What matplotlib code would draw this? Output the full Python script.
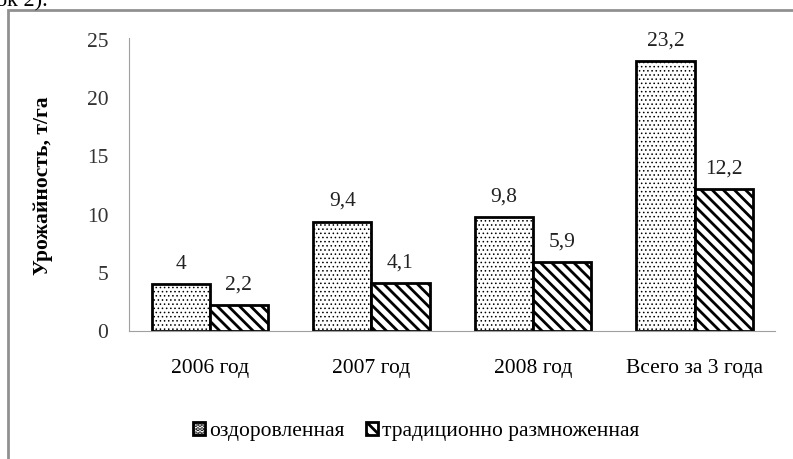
import matplotlib
matplotlib.use("Agg")
import matplotlib.pyplot as plt
from matplotlib.patches import Rectangle
import numpy as np

plt.rcParams['font.family'] = ['Liberation Serif', 'DejaVu Serif']
plt.rcParams['hatch.linewidth'] = 2.0

categories = ["2006 год", "2007 год", "2008 год", "Всего за 3 года"]
healthy = [4, 9.4, 9.8, 23.2]
traditional = [2.2, 4.1, 5.9, 12.2]
healthy_labels = ["4", "9,4", "9,8", "23,2"]
traditional_labels = ["2,2", "4,1", "5,9", "12,2"]
series_names = ["оздоровленная", "традиционно размноженная"]

fs = 15.5
fig = plt.figure(figsize=(7.93, 4.59), dpi=100)
ax = fig.add_axes([0.1627, 0.279, 0.815, 0.634])

x = np.arange(len(categories))
w = 0.36
b1 = ax.bar(x - w / 2, healthy, w, facecolor="white", edgecolor="black",
            linewidth=2, hatch="....", label=series_names[0])
b2 = ax.bar(x + w / 2, traditional, w, facecolor="white", edgecolor="black",
            linewidth=2, hatch="\\\\\\", label=series_names[1])
# dotted fill is light in the original
for p in b1:
    p.set_hatch_linewidth(0.6)

for xi, v, t in zip(x - w / 2, healthy, healthy_labels):
    ax.text(xi, v + 0.9, t, ha="center", va="bottom", fontsize=fs, color="#222222")
for xi, v, t in zip(x + w / 2, traditional, traditional_labels):
    ax.text(xi, v + 0.9, t, ha="center", va="bottom", fontsize=fs, color="#222222")

ax.set_xlim(-0.5, 3.5)
ax.set_ylim(0, 25)
ax.set_yticks([0, 5, 10, 15, 20, 25])
ax.set_xticks(x)
ax.set_xticklabels(categories, fontsize=fs)
ax.tick_params(axis="y", length=0, pad=15, labelsize=fs, labelcolor="#333333")
ax.tick_params(axis="x", length=0, pad=20)
for s in ["top", "right"]:
    ax.spines[s].set_visible(False)
ax.spines["left"].set_color("#a0a0a0")
ax.spines["bottom"].set_color("#a0a0a0")
ax.spines["left"].set_bounds(0, 25.2)
ax.set_ylabel("Урожайность, т/га", fontsize=fs, fontweight="bold", labelpad=24)

leg = fig.legend(handles=[b1, b2], loc="center", bbox_to_anchor=(0.525, 0.06),
                 ncol=2, frameon=False, fontsize=fs, handlelength=0.55,
                 handleheight=0.55, handletextpad=0.2, columnspacing=1.0)

fig.patches.append(Rectangle((8 / 793, -0.05), 1.0, 1 - 10 / 459 + 0.05,
                             transform=fig.transFigure, fill=False,
                             edgecolor="#909090", linewidth=2))
fig.text(-0.005, 0.995, "ок 2).", fontsize=16, va="center", ha="left")

fig.savefig("out.png", dpi=100)
